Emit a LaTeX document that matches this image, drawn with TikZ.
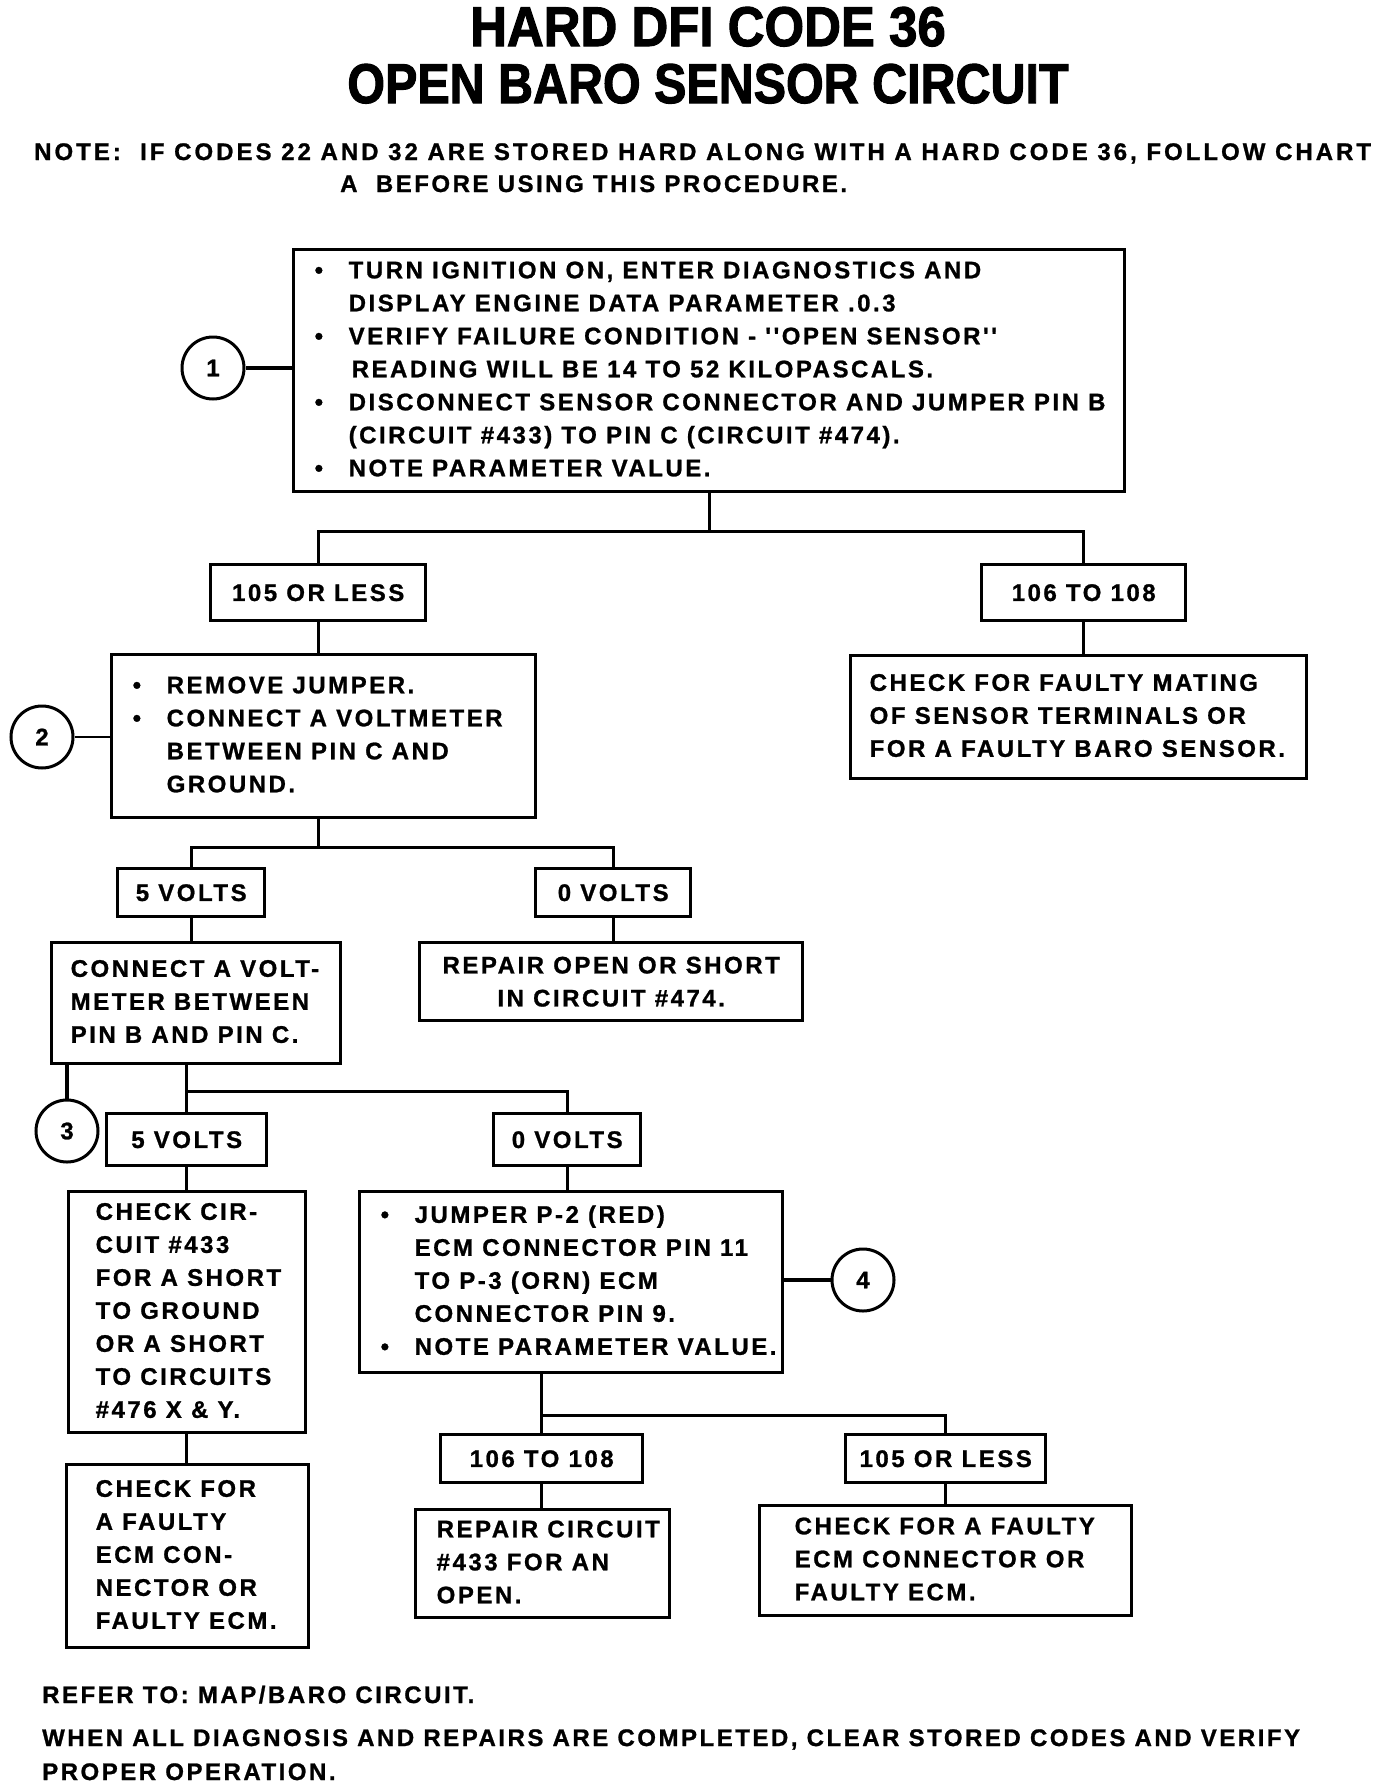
\documentclass[tikz,border=0pt]{standalone}
\usepackage{fontspec}
\usepackage{graphicx}
\newfontfamily\chartfont{Liberation Sans}[LetterSpace=10.5,FakeBold=1]
\newfontfamily\titlefont{Liberation Sans}[FakeBold=2]
\newcommand\bodyfont{\chartfont\bfseries\fontsize{24}{33}\selectfont}
\newcommand\bul{\makebox[34pt][l]{\textbullet}}
\newcommand\bulgap{\hspace*{34pt}}
% left aligned lines that never wrap, in a fixed width
\newcommand\boxlines[2]{\makebox[#1][l]{\begin{tabular}{@{}l@{}}#2\end{tabular}}}

\begin{document}
\begin{tikzpicture}[x=1pt,y=-1pt,
	box/.style={draw,line width=3.4pt,anchor=north west,inner ysep=0pt,font=\bodyfont},
	lbl/.style={draw,line width=3.4pt,anchor=north west,inner sep=0pt,font=\bodyfont},
	callout/.style={draw,circle,line width=3pt,minimum size=62pt,inner sep=0pt,font=\bodyfont},
	wire/.style={line width=3.2pt}]
\useasboundingbox (0,0) rectangle (1392,1788);
%\draw[red] (0,0) rectangle (1392,1788);
\node[anchor=base,font=\titlefont\bfseries\fontsize{56}{60}\selectfont] (title1) at (708,46) {\scalebox{0.91}[1]{HARD DFI CODE 36}};
\node[anchor=base,font=\titlefont\bfseries\fontsize{56}{60}\selectfont] (title2) at (708,103) {\scalebox{0.865}[1]{OPEN BARO SENSOR CIRCUIT}};
\node[anchor=base west,inner sep=0pt,font=\bodyfont] (note1) at (34,160) {\addfontfeature{LetterSpace=12.5}NOTE:\ \ IF CODES 22 AND 32 ARE STORED HARD ALONG WITH A HARD CODE 36, FOLLOW CHART};
\node[anchor=base west,inner sep=0pt,font=\bodyfont] (note2) at (340,192) {A\ \ BEFORE USING THIS PROCEDURE.};

% first check
\node[box,inner xsep=21pt,minimum width=831pt,minimum height=242pt] (check1) at (292,248) {\boxlines{789pt}{%
	\bul TURN IGNITION ON, ENTER DIAGNOSTICS AND\\
	\bulgap DISPLAY ENGINE DATA PARAMETER .0.3\\
	\bul VERIFY FAILURE CONDITION - ''OPEN SENSOR''\\
	\bulgap\hspace*{3pt}READING WILL BE 14 TO 52 KILOPASCALS.\\
	\bul DISCONNECT SENSOR CONNECTOR AND JUMPER PIN B\\
	\bulgap (CIRCUIT \#433) TO PIN C (CIRCUIT \#474).\\
	\bul NOTE PARAMETER VALUE.}};
\node[callout] (c1) at (213,368) {1};
\node[lbl,minimum width=215pt,minimum height=56pt] (b105a) at (209,563) {105 OR LESS};
\node[lbl,minimum width=204pt,minimum height=56pt] (b106a) at (980,563) {106 TO 108};
\node[box,inner xsep=19pt,minimum width=456pt,minimum height=123pt] (mating) at (849,654) {\boxlines{418pt}{%
	CHECK FOR FAULTY MATING\\
	OF SENSOR TERMINALS OR\\
	FOR A FAULTY BARO SENSOR.}};

% voltage at pin C
\node[box,inner xsep=21pt,minimum width=424pt,minimum height=163pt] (remove) at (110,653) {\boxlines{382pt}{%
	\bul REMOVE JUMPER.\\
	\bul CONNECT A VOLTMETER\\
	\bulgap BETWEEN PIN C AND\\
	\bulgap GROUND.}};
\node[callout] (c2) at (42,737) {2};
\node[lbl,minimum width=147pt,minimum height=48pt] (b5a) at (116,867) {5 VOLTS};
\node[lbl,minimum width=155pt,minimum height=48pt] (b0a) at (534,867) {0 VOLTS};
\node[box,inner xsep=19pt,minimum width=289pt,minimum height=121pt] (volt3) at (50,941) {\boxlines{251pt}{%
	CONNECT A VOLT-\\
	METER BETWEEN\\
	PIN B AND PIN C.}};
\node[box,inner xsep=0pt,minimum width=383pt,minimum height=78pt,align=center] (rep474) at (418,941) {%
	REPAIR OPEN OR SHORT\\
	IN CIRCUIT \#474.};

% voltage between B and C
\node[callout] (c3) at (67,1131) {3};
\node[lbl,minimum width=160pt,minimum height=52pt] (b5b) at (105,1112) {5 VOLTS};
\node[lbl,minimum width=147pt,minimum height=52pt] (b0b) at (492,1112) {0 VOLTS};
\node[box,inner xsep=27pt,minimum width=237pt,minimum height=241pt] (cir433) at (67,1190) {\boxlines{183pt}{%
	CHECK CIR-\\
	CUIT \#433\\
	FOR A SHORT\\
	TO GROUND\\
	OR A SHORT\\
	TO CIRCUITS\\
	\#476 X \& Y.}};
\node[box,inner xsep=21pt,minimum width=423pt,minimum height=181pt] (jumper) at (358,1190) {\boxlines{381pt}{%
	\bul JUMPER P-2 (RED)\\
	\bulgap ECM CONNECTOR PIN 11\\
	\bulgap TO P-3 (ORN) ECM\\
	\bulgap CONNECTOR PIN 9.\\
	\bul NOTE PARAMETER VALUE.}};
\node[callout] (c4) at (863,1280) {4};
\node[box,inner xsep=29pt,minimum width=242pt,minimum height=183pt] (ecmcon) at (65,1463) {\boxlines{184pt}{%
	CHECK FOR\\
	A FAULTY\\
	ECM CON-\\
	NECTOR OR\\
	FAULTY ECM.}};
\node[lbl,minimum width=202pt,minimum height=48pt] (b106b) at (439,1433) {106 TO 108};
\node[lbl,minimum width=200pt,minimum height=48pt] (b105b) at (844,1433) {105 OR LESS};
\node[box,inner xsep=21pt,minimum width=254pt,minimum height=108pt] (rep433) at (414,1508) {\boxlines{212pt}{%
	REPAIR CIRCUIT\\
	\#433 FOR AN\\
	OPEN.}};
\node[box,inner xsep=35pt,minimum width=372pt,minimum height=110pt] (ecmfault) at (758,1504) {\boxlines{302pt}{%
	CHECK FOR A FAULTY\\
	ECM CONNECTOR OR\\
	FAULTY ECM.}};

\node[anchor=base west,inner sep=0pt,font=\bodyfont] (refer) at (42,1703) {REFER TO: MAP/BARO CIRCUIT.};
\node[anchor=base west,inner sep=0pt,font=\bodyfont] (when) at (42,1746) {WHEN ALL DIAGNOSIS AND REPAIRS ARE COMPLETED, CLEAR STORED CODES AND VERIFY};
\node[anchor=base west,inner sep=0pt,font=\bodyfont] (proper) at (42,1780) {PROPER OPERATION.};

% connectors
\draw[wire] (check1.south) -- ++(0,38) coordinate (s1);
\draw[wire] (s1) -| (b105a.north);
\draw[wire] (s1) -| (b106a.north);
\draw[wire] (c1.east) -- (c1.east -| check1.west);
\draw[wire] (b106a.south) -- (b106a.south |- mating.north);
\draw[wire] (b105a.south) -- (b105a.south |- remove.north);
\draw[line width=2.2pt] (c2.east) -- (c2.east -| remove.west);
\draw[wire] (remove.south -| b105a.south) -- ++(0,28) coordinate (s2);
\draw[wire] (s2) -| (b5a.north);
\draw[wire] (s2) -| (b0a.north);
\draw[wire] (b5a.south) -- (b5a.south |- volt3.north);
\draw[wire] (b0a.south) -- (b0a.south |- rep474.north);
\draw[wire] (volt3.south -| b5b.north) -- ++(0,26) coordinate (s3);
\draw[wire] (s3) -- (b5b.north);
\draw[wire] (s3) -| (b0b.north);
\draw[wire] (c3.north) -- (c3.north |- volt3.south);
\draw[wire] (b5b.south) -- (b5b.south |- cir433.north);
\draw[wire] (b0b.south) -- (b0b.south |- jumper.north);
\draw[wire] (cir433.south -| b5b.south) -- (b5b.south |- ecmcon.north);
\draw[wire] (c4.west) -- (c4.west -| jumper.east);
\draw[wire] (jumper.south -| b106b.north) -- ++(0,41) coordinate (s4);
\draw[wire] (s4) -- (b106b.north);
\draw[wire] (s4) -| (b105b.north);
\draw[wire] (b106b.south) -- (b106b.south |- rep433.north);
\draw[wire] (b105b.south) -- (b105b.south |- ecmfault.north);
\end{tikzpicture}
\end{document}
